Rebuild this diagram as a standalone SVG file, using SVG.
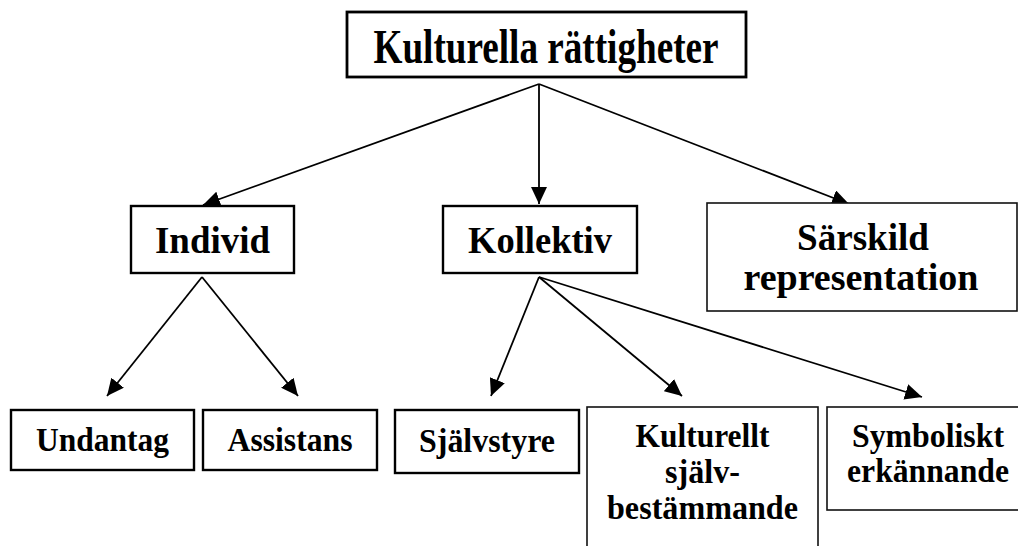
<svg xmlns="http://www.w3.org/2000/svg" width="1018" height="546" viewBox="0 0 1018 546">
<style>
  .box { fill: #ffffff; stroke: #000000; stroke-width: 2.4; }
  .thin { fill: #ffffff; stroke: #111111; stroke-width: 1.6; }
  .t { font-family: "Liberation Serif", "Times New Roman", serif; font-weight: bold; fill: #000000; text-anchor: middle; }
  .l1 { font-size: 48px; }
  .l2 { font-size: 38px; }
  .l3 { font-size: 33px; }
  .edge { stroke: #000000; stroke-width: 1.8; fill: none; marker-end: url(#arrow); }
</style>
<defs>
  <marker id="arrow" markerUnits="userSpaceOnUse" markerWidth="18" markerHeight="16" refX="17" refY="8" orient="auto">
    <path d="M0,0 L17,8 L0,16 Z" fill="#000000"/>
  </marker>
</defs>
<rect width="1018" height="546" fill="#ffffff"/>

<g id="connectors">
  <line class="edge" x1="539" y1="84" x2="203" y2="205"/>
  <line class="edge" x1="539" y1="84" x2="539" y2="204"/>
  <line class="edge" x1="539" y1="84" x2="849" y2="204"/>
  <line class="edge" x1="202" y1="277" x2="107" y2="396"/>
  <line class="edge" x1="202" y1="277" x2="298" y2="396"/>
  <line class="edge" x1="539" y1="277" x2="491" y2="396"/>
  <line class="edge" x1="539" y1="277" x2="682" y2="396"/>
  <line class="edge" x1="539" y1="277" x2="922" y2="397"/>
</g>

<g id="node-kulturella">
  <rect class="box" x="347" y="12" width="399" height="65" style="stroke-width:2.8"/>
  <text class="t l1" x="546" y="63" textLength="345" lengthAdjust="spacingAndGlyphs">Kulturella rättigheter</text>
</g>

<g id="node-individ">
  <rect class="box" x="131" y="206" width="163" height="67"/>
  <text class="t l2" x="212.5" y="253" textLength="115" lengthAdjust="spacingAndGlyphs">Individ</text>
</g>

<g id="node-kollektiv">
  <rect class="box" x="443" y="206" width="194" height="67"/>
  <text class="t l2" x="540" y="253" textLength="144" lengthAdjust="spacingAndGlyphs">Kollektiv</text>
</g>

<g id="node-sarskild">
  <rect class="thin" x="707" y="203" width="310" height="108"/>
  <text class="t l2" x="863" y="250" textLength="132" lengthAdjust="spacingAndGlyphs">Särskild</text>
  <text class="t l2" x="861" y="290" textLength="235" lengthAdjust="spacingAndGlyphs">representation</text>
</g>

<g id="node-undantag">
  <rect class="box" x="11" y="410" width="183" height="60"/>
  <text class="t l3" x="102.5" y="451" textLength="133" lengthAdjust="spacingAndGlyphs">Undantag</text>
</g>

<g id="node-assistans">
  <rect class="box" x="203" y="410" width="174" height="60"/>
  <text class="t l3" x="290" y="451" textLength="125" lengthAdjust="spacingAndGlyphs">Assistans</text>
</g>

<g id="node-sjalvstyre">
  <rect class="box" x="395" y="410" width="184" height="63"/>
  <text class="t l3" x="487" y="452" textLength="136" lengthAdjust="spacingAndGlyphs">Självstyre</text>
</g>

<g id="node-kulturellt">
  <rect class="thin" x="587" y="407" width="231" height="160"/>
  <text class="t l3" x="702.5" y="447" textLength="134" lengthAdjust="spacingAndGlyphs">Kulturellt</text>
  <text class="t l3" x="702.5" y="483" textLength="75" lengthAdjust="spacingAndGlyphs">själv-</text>
  <text class="t l3" x="702.5" y="519" textLength="191" lengthAdjust="spacingAndGlyphs">bestämmande</text>
</g>

<g id="node-symboliskt">
  <rect class="thin" x="827" y="407" width="202" height="103"/>
  <text class="t l3" x="928" y="447" textLength="152" lengthAdjust="spacingAndGlyphs">Symboliskt</text>
  <text class="t l3" x="928" y="482" textLength="162" lengthAdjust="spacingAndGlyphs">erkännande</text>
</g>
</svg>
